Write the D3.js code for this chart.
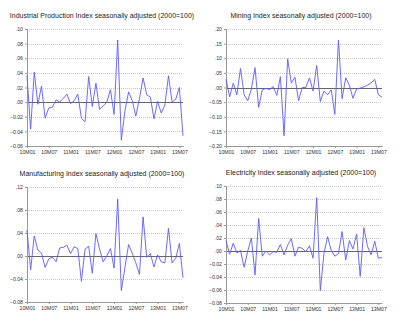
<!DOCTYPE html>
<html>
<head>
<meta charset="utf-8">
<script src="https://cdn.jsdelivr.net/npm/d3@7"></script>
<style>
  body { margin: 0; background: #fff; }
  svg { display: block; font-family: "Liberation Sans", Arial, sans-serif; }
  .title { font-size: 7px; fill: #222; text-anchor: middle; }
  .axis text { font-size: 5.2px; fill: #333; }
  .axis path, .axis line { stroke: #999; }
</style>
</head>
<body>
<div id="chart"></div>
<script>
var W = 400, H = 325;

var months = [
  "10M01","10M02","10M03","10M04","10M05","10M06","10M07","10M08","10M09","10M10","10M11","10M12",
  "11M01","11M02","11M03","11M04","11M05","11M06","11M07","11M08","11M09","11M10","11M11","11M12",
  "12M01","12M02","12M03","12M04","12M05","12M06","12M07","12M08","12M09","12M10","12M11","12M12",
  "13M01","13M02","13M03","13M04","13M05","13M06","13M07","13M08"
];
var tickMonths = ["10M01","10M07","11M01","11M07","12M01","12M07","13M01","13M07"];

var industrial = [
  0.036,-0.037,0.041,-0.003,0.022,-0.022,-0.008,-0.007,0.003,0.000,0.005,0.011,
  -0.002,0.002,0.011,-0.022,-0.027,0.035,-0.006,0.026,-0.010,-0.005,0.000,0.017,
  -0.017,0.085,-0.052,-0.012,0.014,0.002,-0.019,0.005,0.033,0.010,0.007,-0.023,
  0.001,-0.015,-0.004,0.036,0.000,0.004,0.020,-0.046
];
var mining = [
  0.028,-0.032,0.015,-0.025,0.065,-0.025,-0.045,-0.005,0.068,-0.068,-0.008,-0.003,
  -0.007,0.003,-0.027,0.037,-0.165,0.098,0.015,0.035,-0.045,0.000,0.000,0.033,
  -0.012,0.075,-0.048,-0.012,-0.025,-0.008,-0.092,0.162,-0.038,0.033,0.008,-0.037,
  -0.005,-0.002,0.002,0.008,0.016,0.028,-0.025,-0.033
];
var manufacturing = [
  0.045,-0.024,0.035,0.010,0.005,-0.020,-0.005,-0.002,-0.010,0.014,0.015,0.019,
  0.004,0.016,0.013,-0.044,0.012,0.017,-0.030,0.039,0.012,-0.010,0.000,0.013,
  -0.021,0.099,-0.060,-0.020,0.020,0.005,-0.012,-0.032,0.068,-0.002,0.004,-0.019,
  0.002,-0.010,-0.012,0.048,-0.012,-0.004,0.022,-0.038
];
var electricity = [
  0.016,-0.005,0.012,-0.003,0.001,-0.025,0.000,0.020,-0.037,0.050,-0.008,0.000,
  -0.006,-0.001,-0.002,0.010,-0.006,0.009,0.019,-0.008,0.006,0.004,-0.001,0.008,
  -0.011,0.082,-0.061,-0.004,0.022,0.001,-0.008,-0.004,0.030,-0.014,0.016,0.003,
  0.026,-0.039,0.036,0.007,-0.006,0.015,-0.011,-0.010
];

var panels = [
  { title: "Industrial Production Index seasonally adjusted (2000=100)", values: industrial,
    domain: [-0.06, 0.10], step: 0.02, x0: 27, y0: 29, y1: 146 },
  { title: "Mining Index seasonally adjusted (2000=100)", values: mining,
    domain: [-0.20, 0.20], step: 0.05, x0: 226, y0: 29, y1: 146 },
  { title: "Manufacturing Index seasonally adjusted (2000=100)", values: manufacturing,
    domain: [-0.08, 0.12], step: 0.04, x0: 27, y0: 187, y1: 302 },
  { title: "Electricity Index seasonally adjusted (2000=100)", values: electricity,
    domain: [-0.08, 0.10], step: 0.02, x0: 226, y0: 186, y1: 303 }
];
var plotW = 156;

var svg = d3.select("#chart").append("svg")
  .attr("width", W)
  .attr("height", H);

// ".10", "-.02" style labels
function fmt(v) {
  var s = d3.format(".2f")(Math.abs(v) < 1e-9 ? 0 : v);
  return s.replace(/^(-?)0\./, "$1.");
}

panels.forEach(function(p) {
  var g = svg.append("g");

  var x = d3.scalePoint()
    .domain(months)
    .range([p.x0, p.x0 + plotW]);

  var y = d3.scaleLinear()
    .domain(p.domain)
    .range([p.y1, p.y0]);

  var ticks = d3.range(p.domain[0], p.domain[1] + p.step / 2, p.step);

  // dotted gridlines
  g.selectAll(".grid")
    .data(ticks.filter(function(t) { return Math.abs(t) > 1e-9 && t > p.domain[0] + 1e-9; }))
    .enter().append("line")
    .attr("x1", p.x0).attr("x2", p.x0 + plotW)
    .attr("y1", function(d) { return Math.round(y(d)) + 0.5; })
    .attr("y2", function(d) { return Math.round(y(d)) + 0.5; })
    .attr("stroke", "#c8c8c8")
    .attr("stroke-dasharray", "1,1");

  // zero line
  g.append("line")
    .attr("x1", p.x0).attr("x2", p.x0 + plotW)
    .attr("y1", Math.round(y(0)) + 0.5).attr("y2", Math.round(y(0)) + 0.5)
    .attr("stroke", "#666");

  var yAxis = d3.axisLeft(y)
    .tickValues(ticks)
    .tickFormat(fmt)
    .tickSize(2)
    .tickPadding(2);

  g.append("g")
    .attr("class", "axis")
    .attr("transform", "translate(" + p.x0 + ",0)")
    .call(yAxis);

  var xAxis = d3.axisBottom(x)
    .tickValues(tickMonths)
    .tickSize(2)
    .tickSizeOuter(0)
    .tickPadding(2);

  g.append("g")
    .attr("class", "axis")
    .attr("transform", "translate(0," + p.y1 + ")")
    .call(xAxis);

  var line = d3.line()
    .x(function(d, i) { return x(months[i]); })
    .y(function(d) { return y(d); });

  g.append("path")
    .datum(p.values)
    .attr("fill", "none")
    .attr("stroke", "#5a5aff")
    .attr("stroke-width", 0.9)
    .attr("d", line);

  g.append("text")
    .attr("class", "title")
    .attr("x", p.x0 + 75)
    .attr("y", p.y0 - 11)
    .text(p.title);
});
</script>
</body>
</html>
